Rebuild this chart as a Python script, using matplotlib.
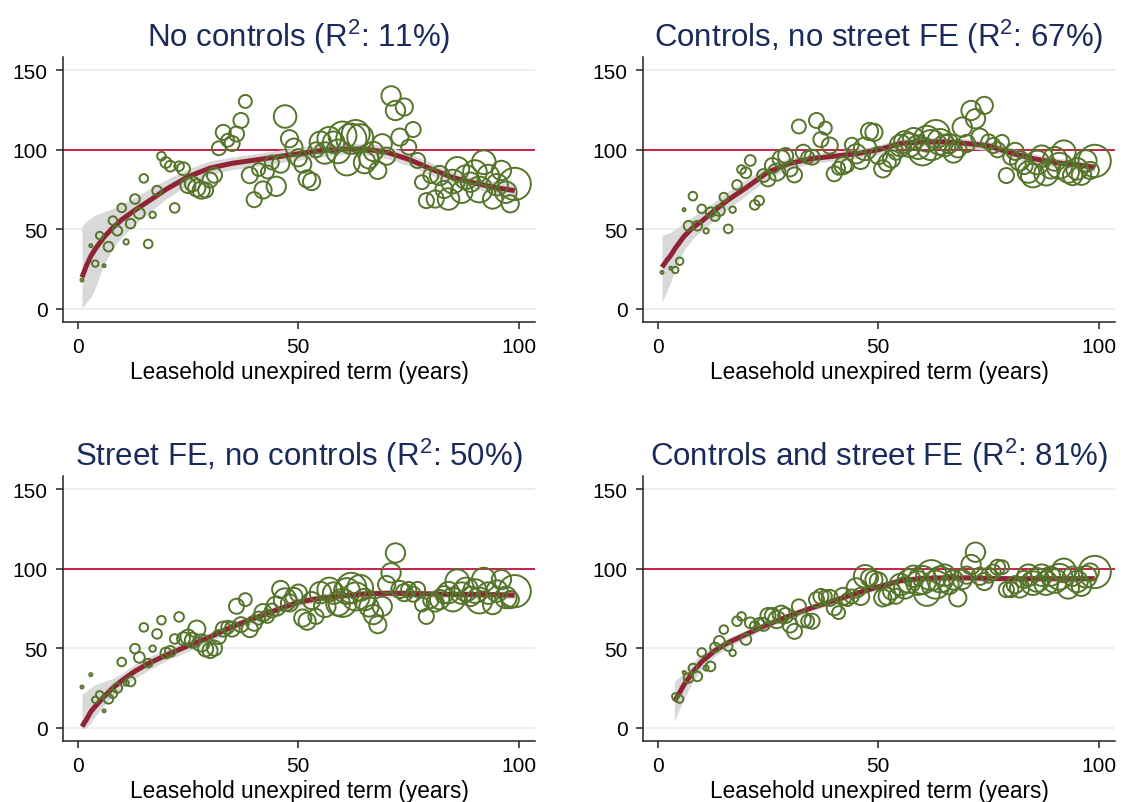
import numpy as np
import matplotlib.pyplot as plt

plt.rcParams['font.family'] = ['Liberation Sans', 'DejaVu Sans']
plt.rcParams['mathtext.fontset'] = 'custom'
plt.rcParams['mathtext.rm'] = 'Liberation Sans'
plt.rcParams['mathtext.default'] = 'rm'

nan = np.nan

# ---------------- data ----------------
years = np.arange(1, 100)

# number of sales per unexpired-term year (bubble weight)
n_obs = [2, 2, 2, 9, 12, 2, 20, 16, 20, 16,
         6, 20, 20, 25, 16, 16, 9, 20, 16, 25,
         25, 20, 20, 36, 49, 49, 64, 64, 49, 49,
         49, 42, 49, 36, 49, 49, 49, 36, 56, 49,
         36, 64, 36, 42, 81, 64, 110, 64, 64, 64,
         64, 64, 64, 49, 100, 100, 121, 100, 121, 169,
         144, 196, 169, 144, 100, 81, 81, 64, 81, 64,
         81, 81, 64, 64, 49, 49, 49, 42, 49, 49,
         64, 81, 64, 100, 121, 121, 100, 121, 81, 121,
         144, 121, 100, 81, 100, 81, 100, 64, 225]

titles = ["No controls (R$^2$: 11%)",
          "Controls, no street FE (R$^2$: 67%)",
          "Street FE, no controls (R$^2$: 50%)",
          "Controls and street FE (R$^2$: 81%)"]

rel_price_1 = [18, nan, 39.6, 28.3, 46, 27, 39, 55.4, 49, 63.4,
               42, 53.5, 69, 60, 82, 40.7, 59, 74.3, 96, 92,
               89.7, 63.4, 89.7, 88, 77.5, 78.5, 76, 74.6, 74.6, 81,
               84, 101, 111, 106, 104, 110, 118.5, 130.5, 84, 68.6,
               87.6, 74.7, 86, 92, 77, 91, 121, 107, 101.7, 95,
               91, 81.7, 80, 100, 104.8, 98, 107, 104.8, 99, 109,
               92, 107, 110, 108, 92, 94.3, 99, 87, 103.8, 96,
               134, 124.8, 108, 127, 101.7, 112.8, 93.3, 79.6, 68, 83.8,
               69, 83.8, 75, 69, 80, 88, 73.3, 82.8, 79.6, 86,
               75, 92.2, 83.8, 69, 78, 87, 73.3, 66, 78.5]

rel_price_2 = [22.8, nan, 25.4, 24.3, 29.8, 62.3, 52.2, 70.8, 52.2, 62.8,
               48.9, 60.7, 58.2, 61.7, 70.2, 50.2, 62.3, 77.9, 87.6, 85.5,
               93.3, 65.3, 68, 83.8, 81.7, 90.1, 86, 94.3, 96.4, 88,
               84.2, 114.7, 98.5, 95.4, 95.4, 118.5, 106.5, 113.7, 102.7, 84.9,
               88.4, 90, 90, 103.2, 97.5, 93.3, 100.6, 111.6, 111, 96.4,
               88, 92, 94.3, 98.5, 102.7, 105, 103, 107, 101.7, 99,
               107, 103, 110, 105, 102.7, 104, 98, 100.6, 114.3, 104,
               124.8, 119.6, 108, 128, 105, 102.7, 100, 105, 83.8, 95.4,
               99, 93, 90.1, 86, 83.8, 92, 96, 85, 88, 94.3,
               90, 98.5, 86, 83.8, 88, 84, 93, 87, 93]

rel_price_3 = [25.5, nan, 33.3, 17.5, 20.6, 10.5, 18.1, 21.3, 24.9, 41.3,
               28, 29, 49.7, 44.2, 63.1, 40.6, 49.7, 59, 67.6, 47,
               48, 55.8, 69.7, 56, 57, 55, 62, 53.3, 49.5, 48.5,
               50, 57, 62, 63.2, 62, 76.4, 64.8, 80.6, 62, 65.7,
               69, 72.4, 70, 73.7, 76.5, 87, 80.6, 78.5, 82.6, 84.7,
               69, 67, 80, 70, 85, 76.4, 87, 84.7, 78, 78.5,
               86, 88, 82.6, 88, 80.6, 76, 71.2, 64.8, 76.4, 90.1,
               97.5, 110, 87, 85, 87, 84, 87, 77.5, 70, 80,
               78.5, 80.6, 83.7, 85, 80.6, 92.2, 84.7, 87, 82.6, 86,
               80, 93.2, 84.7, 77.5, 86, 93.2, 82, 80.6, 85.9]

rel_price_4 = [nan, nan, nan, 19.6, 17.9, 34.7, 31.2, 37.5, 32.2, 47.3,
               37.5, 38.5, 50.5, 54.3, 61.7, 51, 47, 67, 70, 55.5,
               66, 64, 66, 65, 70.6, 70.6, 68, 71.4, 70.6, 64.6,
               60.6, 76.4, 68, 67, 67, 80.6, 82.6, 82.6, 81.7, 75.4,
               72.4, 82.6, 80.6, 82.6, 88, 82.6, 95.3, 94.3, 93.3, 92.3,
               81.7, 82.7, 86, 82.7, 90.1, 88, 92.3, 95.3, 91, 93,
               84.8, 96, 90, 93.3, 96, 90.1, 93, 81.7, 93.3, 96,
               102.7, 110.5, 95.3, 92, 96, 98, 101, 101, 86.9, 86.9,
               90, 88, 93.3, 96, 91, 93, 96, 91, 95.3, 92.3,
               95, 99, 88, 95.3, 92, 89, 95, 98, 98]

# fitted curve and 95% band
fit_x = [1, 2, 3, 4, 6, 8, 10, 13, 16, 20, 25, 30, 35, 40, 45, 50,
         55, 60, 65, 70, 75, 80, 85, 90, 95, 99]
fit_1 = [19.7, 27, 33, 37.5, 45, 51, 56, 62, 67.5, 75, 83, 88.5, 91.5, 93.5, 95.5, 97.5,
         99.5, 100.5, 100.5, 98.5, 94, 88, 82.5, 79, 76, 74.3]
lo_1 = [0, 4, 7, 13, 28, 38, 45, 53, 60, 69, 78, 84.5, 87.5, 89.5, 91.5, 93.5,
        95.5, 97, 97, 94.5, 90, 84, 79, 75.5, 72, 70]
hi_1 = [52, 55, 57, 59, 61, 63, 66, 70, 75, 81, 88, 93, 95.5, 97.5, 99.5, 101.5,
        103.5, 104, 104, 102.5, 98, 92, 86, 82.5, 80, 79]

fit_2 = [26, 30, 33.5, 38, 45.5, 51, 55, 62, 68.5, 76, 86, 91.5, 94.5, 96, 97.5, 100,
         104, 105, 105, 104, 102.5, 98, 94.5, 92, 90.5, 89]
lo_2 = [4, 10, 17, 25, 37, 44, 49, 56, 63, 71, 82, 88, 91.5, 93, 94.5, 97,
        101, 102, 102, 101, 99.5, 95, 91.5, 89, 87.5, 86]
hi_2 = [46, 47, 48, 50, 54, 58, 62, 67.5, 74, 81, 90, 95, 97.5, 99, 100.5, 103,
        107, 108, 108, 107, 105.5, 101, 97.5, 95, 93.5, 92]

fit_3 = [0.6, 5, 10, 13.3, 19.5, 25, 29.5, 35.5, 40.3, 45.5, 51.5, 57, 63.5, 68.8, 74, 79,
         81.5, 83, 84.2, 84.6, 84.5, 84.2, 83.9, 83.8, 83.7, 83.4]
lo_3 = [-1, 0, 3, 7, 14, 20, 25, 31, 36, 42, 48, 54, 60.5, 66, 71.3, 76.5,
        79, 80.7, 82, 82.4, 82.3, 82, 81.7, 81.6, 81.5, 81.2]
hi_3 = [21, 23, 25, 27, 29, 31, 34, 40, 44.5, 49, 55, 60, 66.5, 71.5, 76.7, 81.5,
        84, 85.3, 86.4, 86.8, 86.7, 86.4, 86.1, 86, 85.9, 85.6]

fit_x4 = [3.8, 5, 6, 8, 10, 13, 16, 20, 25, 30, 35, 40, 45, 50,
          55, 60, 65, 70, 75, 80, 85, 90, 95, 99]
fit_4 = [16.4, 22, 27, 35, 41.5, 48.5, 53.5, 58.7, 65, 70.5, 75.5, 80, 84.5, 88.7,
         92.5, 94, 94.3, 94.3, 94, 93.8, 93.8, 93.8, 93.8, 93.8]
lo_4 = [4, 12, 18, 29, 36.5, 45, 50.5, 56.2, 63, 68.5, 73.5, 78, 82.5, 86.7,
        90.5, 92, 92.3, 92.3, 92, 91.8, 91.8, 91.8, 91.8, 91.8]
hi_4 = [29, 32, 35, 41, 46.5, 52, 56.5, 61.2, 67, 72.5, 77.5, 82, 86.5, 90.7,
        94.5, 96, 96.3, 96.3, 96, 95.8, 95.8, 95.8, 95.8, 95.8]

panels = [
    (titles[0], rel_price_1, fit_x, fit_1, lo_1, hi_1),
    (titles[1], rel_price_2, fit_x, fit_2, lo_2, hi_2),
    (titles[2], rel_price_3, fit_x, fit_3, lo_3, hi_3),
    (titles[3], rel_price_4, fit_x4, fit_4, lo_4, hi_4),
]

# ---------------- plot ----------------
GREEN = '#55752b'
FITRED = '#8e2434'
REFRED = '#c8103c'
BAND = '#d9d9d9'
NAVY = '#1a2a5a'

W, H = 1123, 803
fig = plt.figure(figsize=(W / 100, H / 100), dpi=100)

# axes boxes in pixels: left, top, width, height
boxes = [(63, 58, 472, 265), (643, 58, 472, 265),
         (63, 477, 472, 265), (643, 477, 472, 265)]

sizes = np.array(n_obs) * 2.4

for (title, vals, fx, fy, flo, fhi), (l, t, w, h) in zip(panels, boxes):
    ax = fig.add_axes([l / W, 1 - (t + h) / H, w / W, h / H])
    ax.axhline(100, color=REFRED, lw=1.3, zorder=1)
    ax.fill_between(fx, flo, fhi, color=BAND, lw=0, zorder=2)
    ax.plot(fx, fy, color=FITRED, lw=3.6, zorder=3, solid_capstyle='butt')
    ax.scatter(years, vals, s=sizes, facecolors='none', edgecolors=GREEN,
               linewidths=1.4, zorder=4)

    ax.set_xlim(-3.3, 103.6)
    ax.set_ylim(-8.5, 158.5)
    ax.set_xticks([0, 50, 100])
    ax.set_yticks([0, 50, 100, 150])
    ax.grid(axis='y', color='#e8eef1', lw=1.3, zorder=0)
    ax.set_axisbelow(True)
    for side in ['top', 'right']:
        ax.spines[side].set_visible(False)
    for side in ['left', 'bottom']:
        ax.spines[side].set_linewidth(1.1)
        ax.spines[side].set_color('#222222')
    ax.tick_params(direction='out', length=5, width=1.1, labelsize=15,
                   color='#222222', pad=6)
    ax.set_xlabel('Leasehold unexpired term (years)', fontsize=16.3, labelpad=3)
    ax.set_title(title, fontsize=22.5, color=NAVY, pad=8)

fig.savefig('out.png', dpi=100)
